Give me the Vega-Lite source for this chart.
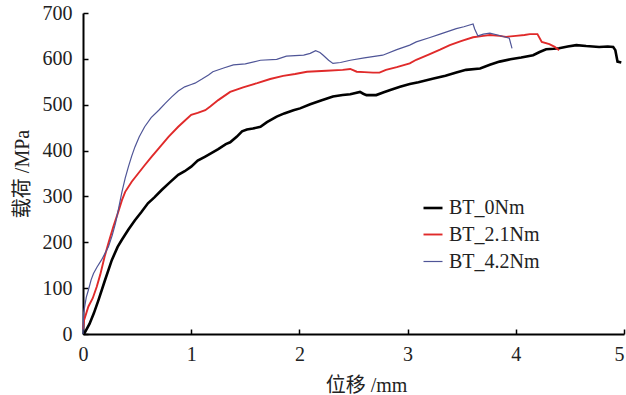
{
  "$schema": "https://vega.github.io/schema/vega-lite/v6.json",
  "width": 541,
  "height": 321,
  "autosize": "none",
  "padding": {"left": 83, "top": 13, "right": 2, "bottom": 61},
  "background": "white",
  "config": {
    "view": {"stroke": null},
    "axis": {
      "grid": false,
      "domainColor": "#000000",
      "domainWidth": 2,
      "tickColor": "#000000",
      "tickWidth": 1.5,
      "tickSize": -5,
      "labelFont": "Liberation Serif, Times New Roman, serif",
      "labelFontSize": 20,
      "labelColor": "#222222",
      "titleFont": "Liberation Serif, Times New Roman, Noto Sans CJK SC, serif",
      "titleFontSize": 20,
      "titleFontWeight": "normal",
      "titleColor": "#222222"
    },
    "legend": {
      "labelFont": "Liberation Serif, Times New Roman, serif",
      "labelFontSize": 20,
      "labelColor": "#222222"
    }
  },
  "data": {
    "values": [
      {"s": "BT_0Nm", "x": 0, "y": 0},
      {"s": "BT_0Nm", "x": 0.014, "y": 2},
      {"s": "BT_0Nm", "x": 0.06, "y": 22},
      {"s": "BT_0Nm", "x": 0.1, "y": 45},
      {"s": "BT_0Nm", "x": 0.143, "y": 74},
      {"s": "BT_0Nm", "x": 0.2, "y": 115},
      {"s": "BT_0Nm", "x": 0.266, "y": 161},
      {"s": "BT_0Nm", "x": 0.32, "y": 190},
      {"s": "BT_0Nm", "x": 0.358, "y": 205},
      {"s": "BT_0Nm", "x": 0.42, "y": 228},
      {"s": "BT_0Nm", "x": 0.48, "y": 248},
      {"s": "BT_0Nm", "x": 0.54, "y": 266},
      {"s": "BT_0Nm", "x": 0.6, "y": 285},
      {"s": "BT_0Nm", "x": 0.66, "y": 298},
      {"s": "BT_0Nm", "x": 0.727, "y": 314},
      {"s": "BT_0Nm", "x": 0.8, "y": 330},
      {"s": "BT_0Nm", "x": 0.88, "y": 347},
      {"s": "BT_0Nm", "x": 0.94, "y": 355},
      {"s": "BT_0Nm", "x": 1.0, "y": 365},
      {"s": "BT_0Nm", "x": 1.06, "y": 378},
      {"s": "BT_0Nm", "x": 1.13, "y": 387},
      {"s": "BT_0Nm", "x": 1.19, "y": 395},
      {"s": "BT_0Nm", "x": 1.25, "y": 403},
      {"s": "BT_0Nm", "x": 1.32, "y": 414},
      {"s": "BT_0Nm", "x": 1.36, "y": 418},
      {"s": "BT_0Nm", "x": 1.42, "y": 430},
      {"s": "BT_0Nm", "x": 1.47, "y": 442},
      {"s": "BT_0Nm", "x": 1.515, "y": 446},
      {"s": "BT_0Nm", "x": 1.57, "y": 448},
      {"s": "BT_0Nm", "x": 1.64, "y": 452},
      {"s": "BT_0Nm", "x": 1.7, "y": 462},
      {"s": "BT_0Nm", "x": 1.79, "y": 474},
      {"s": "BT_0Nm", "x": 1.86, "y": 481},
      {"s": "BT_0Nm", "x": 1.945, "y": 488},
      {"s": "BT_0Nm", "x": 2.006, "y": 492},
      {"s": "BT_0Nm", "x": 2.1, "y": 501},
      {"s": "BT_0Nm", "x": 2.2, "y": 509},
      {"s": "BT_0Nm", "x": 2.31, "y": 518},
      {"s": "BT_0Nm", "x": 2.4, "y": 521},
      {"s": "BT_0Nm", "x": 2.47, "y": 523},
      {"s": "BT_0Nm", "x": 2.56, "y": 528},
      {"s": "BT_0Nm", "x": 2.59, "y": 524},
      {"s": "BT_0Nm", "x": 2.62, "y": 521},
      {"s": "BT_0Nm", "x": 2.71, "y": 521},
      {"s": "BT_0Nm", "x": 2.78, "y": 527},
      {"s": "BT_0Nm", "x": 2.84, "y": 532},
      {"s": "BT_0Nm", "x": 2.93, "y": 539},
      {"s": "BT_0Nm", "x": 3.02, "y": 545},
      {"s": "BT_0Nm", "x": 3.1, "y": 549},
      {"s": "BT_0Nm", "x": 3.24, "y": 557},
      {"s": "BT_0Nm", "x": 3.35, "y": 563},
      {"s": "BT_0Nm", "x": 3.45, "y": 570},
      {"s": "BT_0Nm", "x": 3.54, "y": 576},
      {"s": "BT_0Nm", "x": 3.67, "y": 579},
      {"s": "BT_0Nm", "x": 3.76, "y": 587},
      {"s": "BT_0Nm", "x": 3.85, "y": 594},
      {"s": "BT_0Nm", "x": 3.95, "y": 599},
      {"s": "BT_0Nm", "x": 4.05, "y": 603},
      {"s": "BT_0Nm", "x": 4.16, "y": 608},
      {"s": "BT_0Nm", "x": 4.22, "y": 615},
      {"s": "BT_0Nm", "x": 4.28, "y": 621},
      {"s": "BT_0Nm", "x": 4.35, "y": 622},
      {"s": "BT_0Nm", "x": 4.4, "y": 623},
      {"s": "BT_0Nm", "x": 4.48, "y": 627},
      {"s": "BT_0Nm", "x": 4.56, "y": 630},
      {"s": "BT_0Nm", "x": 4.65, "y": 628},
      {"s": "BT_0Nm", "x": 4.77, "y": 626},
      {"s": "BT_0Nm", "x": 4.85, "y": 627},
      {"s": "BT_0Nm", "x": 4.9, "y": 626},
      {"s": "BT_0Nm", "x": 4.92, "y": 619},
      {"s": "BT_0Nm", "x": 4.94, "y": 594},
      {"s": "BT_0Nm", "x": 4.975, "y": 592},
      {"s": "BT_2.1Nm", "x": 0, "y": 10},
      {"s": "BT_2.1Nm", "x": 0.01, "y": 30},
      {"s": "BT_2.1Nm", "x": 0.05, "y": 60},
      {"s": "BT_2.1Nm", "x": 0.09, "y": 78},
      {"s": "BT_2.1Nm", "x": 0.127, "y": 103},
      {"s": "BT_2.1Nm", "x": 0.16, "y": 130},
      {"s": "BT_2.1Nm", "x": 0.2, "y": 169},
      {"s": "BT_2.1Nm", "x": 0.24, "y": 202},
      {"s": "BT_2.1Nm", "x": 0.28, "y": 234},
      {"s": "BT_2.1Nm", "x": 0.32, "y": 262},
      {"s": "BT_2.1Nm", "x": 0.36, "y": 292},
      {"s": "BT_2.1Nm", "x": 0.39, "y": 310},
      {"s": "BT_2.1Nm", "x": 0.45, "y": 332},
      {"s": "BT_2.1Nm", "x": 0.51, "y": 350},
      {"s": "BT_2.1Nm", "x": 0.57, "y": 368},
      {"s": "BT_2.1Nm", "x": 0.635, "y": 387},
      {"s": "BT_2.1Nm", "x": 0.7, "y": 405},
      {"s": "BT_2.1Nm", "x": 0.79, "y": 430},
      {"s": "BT_2.1Nm", "x": 0.88, "y": 452},
      {"s": "BT_2.1Nm", "x": 0.94, "y": 465},
      {"s": "BT_2.1Nm", "x": 1.0, "y": 478},
      {"s": "BT_2.1Nm", "x": 1.06, "y": 482},
      {"s": "BT_2.1Nm", "x": 1.13, "y": 488},
      {"s": "BT_2.1Nm", "x": 1.176, "y": 496},
      {"s": "BT_2.1Nm", "x": 1.25, "y": 510},
      {"s": "BT_2.1Nm", "x": 1.36, "y": 528},
      {"s": "BT_2.1Nm", "x": 1.48, "y": 538},
      {"s": "BT_2.1Nm", "x": 1.61, "y": 547},
      {"s": "BT_2.1Nm", "x": 1.73, "y": 556},
      {"s": "BT_2.1Nm", "x": 1.85, "y": 563},
      {"s": "BT_2.1Nm", "x": 1.96, "y": 567},
      {"s": "BT_2.1Nm", "x": 2.07, "y": 572},
      {"s": "BT_2.1Nm", "x": 2.25, "y": 574},
      {"s": "BT_2.1Nm", "x": 2.4, "y": 576},
      {"s": "BT_2.1Nm", "x": 2.47, "y": 578},
      {"s": "BT_2.1Nm", "x": 2.53, "y": 572},
      {"s": "BT_2.1Nm", "x": 2.6, "y": 571},
      {"s": "BT_2.1Nm", "x": 2.68, "y": 570},
      {"s": "BT_2.1Nm", "x": 2.74, "y": 570},
      {"s": "BT_2.1Nm", "x": 2.8, "y": 576},
      {"s": "BT_2.1Nm", "x": 2.9, "y": 582},
      {"s": "BT_2.1Nm", "x": 3.02, "y": 590},
      {"s": "BT_2.1Nm", "x": 3.08, "y": 598},
      {"s": "BT_2.1Nm", "x": 3.2, "y": 610},
      {"s": "BT_2.1Nm", "x": 3.3, "y": 620},
      {"s": "BT_2.1Nm", "x": 3.39, "y": 630},
      {"s": "BT_2.1Nm", "x": 3.5, "y": 639},
      {"s": "BT_2.1Nm", "x": 3.605, "y": 647},
      {"s": "BT_2.1Nm", "x": 3.7, "y": 650},
      {"s": "BT_2.1Nm", "x": 3.76, "y": 652},
      {"s": "BT_2.1Nm", "x": 3.85, "y": 650},
      {"s": "BT_2.1Nm", "x": 3.91, "y": 648},
      {"s": "BT_2.1Nm", "x": 4.0, "y": 650},
      {"s": "BT_2.1Nm", "x": 4.08, "y": 652},
      {"s": "BT_2.1Nm", "x": 4.13, "y": 654},
      {"s": "BT_2.1Nm", "x": 4.2, "y": 654},
      {"s": "BT_2.1Nm", "x": 4.24, "y": 637},
      {"s": "BT_2.1Nm", "x": 4.31, "y": 632},
      {"s": "BT_2.1Nm", "x": 4.36, "y": 626},
      {"s": "BT_2.1Nm", "x": 4.4, "y": 619},
      {"s": "BT_4.2Nm", "x": 0, "y": 0},
      {"s": "BT_4.2Nm", "x": 0.005, "y": 45},
      {"s": "BT_4.2Nm", "x": 0.03, "y": 80},
      {"s": "BT_4.2Nm", "x": 0.05, "y": 96},
      {"s": "BT_4.2Nm", "x": 0.075, "y": 118},
      {"s": "BT_4.2Nm", "x": 0.097, "y": 132},
      {"s": "BT_4.2Nm", "x": 0.13, "y": 146},
      {"s": "BT_4.2Nm", "x": 0.17, "y": 161},
      {"s": "BT_4.2Nm", "x": 0.235, "y": 190},
      {"s": "BT_4.2Nm", "x": 0.27, "y": 215},
      {"s": "BT_4.2Nm", "x": 0.3, "y": 241},
      {"s": "BT_4.2Nm", "x": 0.33, "y": 275},
      {"s": "BT_4.2Nm", "x": 0.36, "y": 310},
      {"s": "BT_4.2Nm", "x": 0.39, "y": 340},
      {"s": "BT_4.2Nm", "x": 0.42, "y": 365},
      {"s": "BT_4.2Nm", "x": 0.45, "y": 388},
      {"s": "BT_4.2Nm", "x": 0.48, "y": 408},
      {"s": "BT_4.2Nm", "x": 0.52, "y": 430},
      {"s": "BT_4.2Nm", "x": 0.57, "y": 452},
      {"s": "BT_4.2Nm", "x": 0.63, "y": 472},
      {"s": "BT_4.2Nm", "x": 0.7, "y": 488},
      {"s": "BT_4.2Nm", "x": 0.76, "y": 503},
      {"s": "BT_4.2Nm", "x": 0.82, "y": 517},
      {"s": "BT_4.2Nm", "x": 0.88, "y": 530},
      {"s": "BT_4.2Nm", "x": 0.94, "y": 539},
      {"s": "BT_4.2Nm", "x": 1.0, "y": 544},
      {"s": "BT_4.2Nm", "x": 1.035, "y": 547},
      {"s": "BT_4.2Nm", "x": 1.1, "y": 556},
      {"s": "BT_4.2Nm", "x": 1.16, "y": 565},
      {"s": "BT_4.2Nm", "x": 1.2, "y": 572},
      {"s": "BT_4.2Nm", "x": 1.3, "y": 580},
      {"s": "BT_4.2Nm", "x": 1.39, "y": 587},
      {"s": "BT_4.2Nm", "x": 1.5, "y": 589},
      {"s": "BT_4.2Nm", "x": 1.64, "y": 597},
      {"s": "BT_4.2Nm", "x": 1.79, "y": 599},
      {"s": "BT_4.2Nm", "x": 1.88, "y": 606},
      {"s": "BT_4.2Nm", "x": 2.04, "y": 608},
      {"s": "BT_4.2Nm", "x": 2.1, "y": 612},
      {"s": "BT_4.2Nm", "x": 2.15, "y": 618},
      {"s": "BT_4.2Nm", "x": 2.19, "y": 614},
      {"s": "BT_4.2Nm", "x": 2.22, "y": 608},
      {"s": "BT_4.2Nm", "x": 2.27, "y": 597},
      {"s": "BT_4.2Nm", "x": 2.31, "y": 590},
      {"s": "BT_4.2Nm", "x": 2.38, "y": 592},
      {"s": "BT_4.2Nm", "x": 2.47, "y": 597},
      {"s": "BT_4.2Nm", "x": 2.6, "y": 602},
      {"s": "BT_4.2Nm", "x": 2.77, "y": 608},
      {"s": "BT_4.2Nm", "x": 2.9, "y": 620},
      {"s": "BT_4.2Nm", "x": 3.02, "y": 630},
      {"s": "BT_4.2Nm", "x": 3.08, "y": 637},
      {"s": "BT_4.2Nm", "x": 3.2, "y": 646},
      {"s": "BT_4.2Nm", "x": 3.3, "y": 654},
      {"s": "BT_4.2Nm", "x": 3.45, "y": 666},
      {"s": "BT_4.2Nm", "x": 3.52, "y": 670},
      {"s": "BT_4.2Nm", "x": 3.605, "y": 676},
      {"s": "BT_4.2Nm", "x": 3.62, "y": 665},
      {"s": "BT_4.2Nm", "x": 3.65, "y": 650},
      {"s": "BT_4.2Nm", "x": 3.7, "y": 654},
      {"s": "BT_4.2Nm", "x": 3.76, "y": 656},
      {"s": "BT_4.2Nm", "x": 3.85, "y": 651},
      {"s": "BT_4.2Nm", "x": 3.94, "y": 645},
      {"s": "BT_4.2Nm", "x": 3.965, "y": 623}
    ]
  },
  "mark": {"type": "line", "interpolate": "linear"},
  "encoding": {
    "x": {
      "field": "x",
      "type": "quantitative",
      "scale": {"domain": [0, 5], "nice": false},
      "axis": {
        "values": [0, 1, 2, 3, 4, 5],
        "title": "位移 /mm",
        "labelFlush": false,
        "labelOverlap": false,
        "labelPadding": 15,
        "titlePadding": 11,
        "titleX": 283,
        "labelAlign": {"condition": {"test": "datum.value == 5", "value": "right"}, "value": "center"}
      }
    },
    "y": {
      "field": "y",
      "type": "quantitative",
      "scale": {"domain": [0, 700], "nice": false},
      "axis": {"values": [0, 100, 200, 300, 400, 500, 600, 700], "title": "载荷 /MPa", "labelPadding": 16, "titlePadding": 10}
    },
    "color": {
      "field": "s",
      "type": "nominal",
      "scale": {"domain": ["BT_0Nm", "BT_2.1Nm", "BT_4.2Nm"], "range": ["#000000", "#e02a2a", "#4f5597"]},
      "legend": {
        "title": null,
        "orient": "none",
        "legendX": 339,
        "legendY": 184,
        "symbolType": "stroke",
        "symbolSize": 361,
        "symbolStrokeWidth": 1.4,
        "rowPadding": 6,
        "labelOffset": 5,
        "symbolOffset": 0,
        "encode": {
          "symbols": {
            "update": {
              "strokeWidth": {"signal": "datum.value === 'BT_0Nm' ? 2.6 : 1.3"}
            }
          }
        }
      }
    },
    "strokeWidth": {
      "field": "s",
      "type": "nominal",
      "scale": {"domain": ["BT_0Nm", "BT_2.1Nm", "BT_4.2Nm"], "range": [2.6, 1.2, 1.2]},
      "legend": null
    }
  }
}
